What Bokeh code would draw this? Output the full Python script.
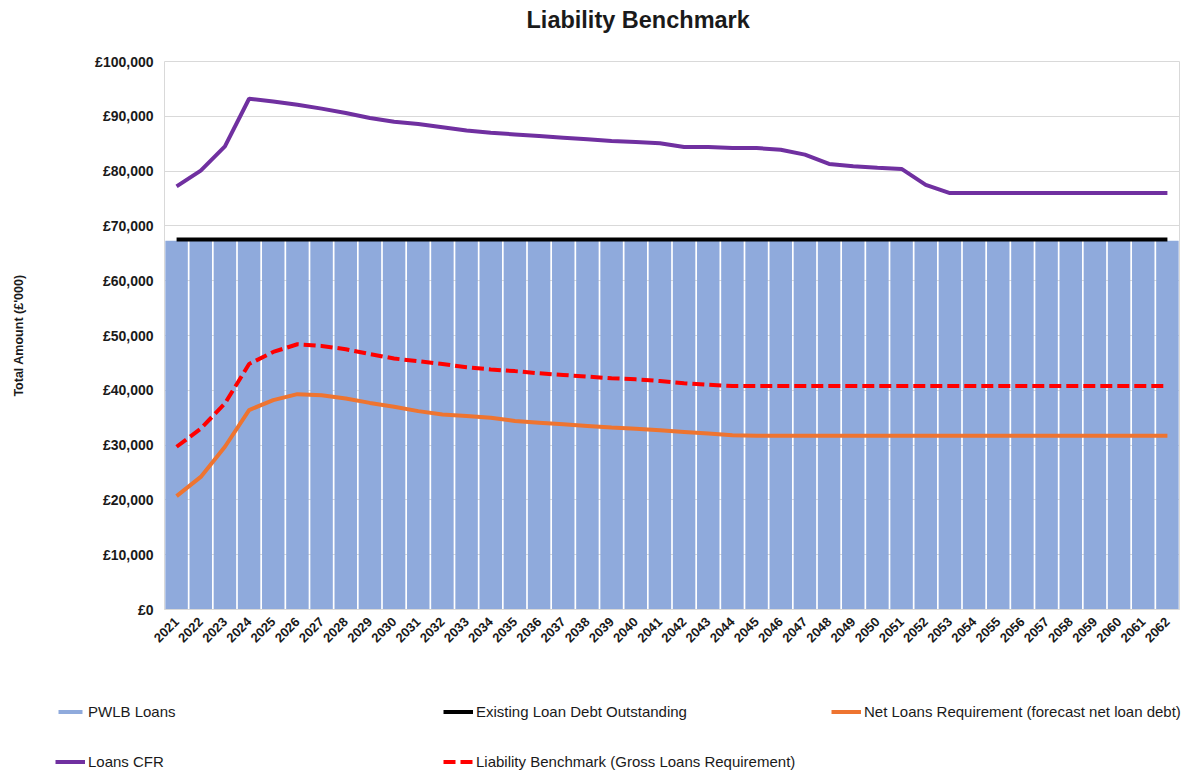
import math
from bokeh.plotting import figure
from bokeh.models import (FactorRange, Range1d, FixedTicker, Legend, LegendItem,
                          ColumnDataSource, Title)
from bokeh.embed import file_html
from bokeh.resources import INLINE

years = ["2021", "2022", "2023", "2024", "2025", "2026", "2027", "2028", "2029", "2030",
         "2031", "2032", "2033", "2034", "2035", "2036", "2037", "2038", "2039", "2040",
         "2041", "2042", "2043", "2044", "2045", "2046", "2047", "2048", "2049", "2050",
         "2051", "2052", "2053", "2054", "2055", "2056", "2057", "2058", "2059", "2060",
         "2061", "2062"]

pwlb_loans = [67300, 67300, 67300, 67300, 67300, 67300, 67300, 67300, 67300, 67300,
              67300, 67300, 67300, 67300, 67300, 67300, 67300, 67300, 67300, 67300,
              67300, 67300, 67300, 67300, 67300, 67300, 67300, 67300, 67300, 67300,
              67300, 67300, 67300, 67300, 67300, 67300, 67300, 67300, 67300, 67300,
              67300, 67300]

existing_debt = [67500, 67500, 67500, 67500, 67500, 67500, 67500, 67500, 67500, 67500,
                 67500, 67500, 67500, 67500, 67500, 67500, 67500, 67500, 67500, 67500,
                 67500, 67500, 67500, 67500, 67500, 67500, 67500, 67500, 67500, 67500,
                 67500, 67500, 67500, 67500, 67500, 67500, 67500, 67500, 67500, 67500,
                 67500, 67500]

net_loans = [20700, 24200, 29700, 36400, 38200, 39300, 39100, 38500, 37700, 37000,
             36200, 35600, 35300, 35000, 34400, 34100, 33800, 33500, 33200, 33000,
             32700, 32400, 32100, 31800, 31700, 31700, 31700, 31700, 31700, 31700,
             31700, 31700, 31700, 31700, 31700, 31700, 31700, 31700, 31700, 31700,
             31700, 31700]

loans_cfr = [77200, 80100, 84500, 93200, 92700, 92100, 91400, 90600, 89700, 89000,
             88600, 88000, 87400, 87000, 86700, 86400, 86100, 85800, 85500, 85300,
             85100, 84400, 84400, 84200, 84200, 83900, 83000, 81300, 80900, 80600,
             80400, 77500, 76000, 76000, 76000, 76000, 76000, 76000, 76000, 76000,
             76000, 76000]

liability_benchmark = [29700, 33000, 37600, 44800, 47000, 48400, 48100, 47500, 46600, 45800,
                       45300, 44800, 44200, 43800, 43500, 43100, 42800, 42500, 42200, 42000,
                       41700, 41300, 41000, 40800, 40800, 40800, 40800, 40800, 40800, 40800,
                       40800, 40800, 40800, 40800, 40800, 40800, 40800, 40800, 40800, 40800,
                       40800, 40800]

y_ticks = [0, 10000, 20000, 30000, 40000, 50000, 60000, 70000, 80000, 90000, 100000]
y_tick_labels = ["£0", "£10,000", "£20,000", "£30,000", "£40,000", "£50,000",
                 "£60,000", "£70,000", "£80,000", "£90,000", "£100,000"]

series_labels = ["PWLB Loans", "Existing Loan Debt Outstanding",
                 "Net Loans Requirement (forecast net loan debt)",
                 "Loans CFR", "Liability Benchmark (Gross Loans Requirement)"]

colors = {"pwlb": "#8faadc", "existing": "#000000", "net": "#ee7430",
          "cfr": "#7030a0", "lb": "#ff0000"}
LB_DASH = "12 5"

source = ColumnDataSource(dict(year=years, pwlb=pwlb_loans, existing=existing_debt,
                               net=net_loans, cfr=loans_cfr, lb=liability_benchmark))

FONT = "Liberation Sans"
TXT = "#1a1a1a"
W = 1188


def add_series(fig):
    r_bar = fig.vbar(x="year", top="pwlb", width=0.93, source=source,
                     fill_color=colors["pwlb"], line_color=None)
    r_exist = fig.line("year", "existing", source=source, line_color=colors["existing"], line_width=4)
    r_net = fig.line("year", "net", source=source, line_color=colors["net"], line_width=4)
    r_lb = fig.line("year", "lb", source=source, line_color=colors["lb"], line_width=4,
                    line_dash=LB_DASH)
    r_cfr = fig.line("year", "cfr", source=source, line_color=colors["cfr"], line_width=4)
    return r_bar, r_exist, r_net, r_lb, r_cfr


# ---------------- main chart ----------------
p = figure(width=W, height=680, x_range=FactorRange(factors=years),
           y_range=Range1d(0, 100000), output_backend="svg", toolbar_location=None,
           title_location=None,
           min_border_left=164, min_border_right=9, min_border_top=61, min_border_bottom=71)

# spacer (nearest the frame), then the real title above it
p.add_layout(Title(text=" ", text_font_size="10px", standoff=16), "above")
p.add_layout(Title(text="Liability Benchmark", align="left", offset=362,
                   text_font=FONT, text_font_size="23.5px", text_font_style="bold",
                   text_color=TXT, standoff=0), "above")

p.outline_line_color = "#d9d9d9"
p.xgrid.grid_line_color = None
p.ygrid.grid_line_color = "#d9d9d9"
p.ygrid.ticker = FixedTicker(ticks=y_ticks)

p.yaxis.ticker = FixedTicker(ticks=y_ticks)
p.yaxis.major_label_overrides = {t: l for t, l in zip(y_ticks, y_tick_labels)}
p.yaxis.axis_line_color = None
p.yaxis.major_tick_line_color = None
p.yaxis.minor_tick_line_color = None
p.yaxis.major_label_text_font = FONT
p.yaxis.major_label_text_font_size = "14px"
p.yaxis.major_label_text_font_style = "bold"
p.yaxis.major_label_text_color = TXT
p.yaxis.major_label_standoff = 5
p.yaxis.axis_label = "Total Amount (£'000)"
p.yaxis.axis_label_text_font = FONT
p.yaxis.axis_label_text_font_size = "12.5px"
p.yaxis.axis_label_text_font_style = "bold"
p.yaxis.axis_label_text_color = TXT
p.yaxis.axis_label_standoff = 66

p.xaxis.axis_line_color = "#d9d9d9"
p.xaxis.major_tick_line_color = None
p.xaxis.minor_tick_line_color = None
p.xaxis.major_label_orientation = math.pi / 4
p.xaxis.major_label_text_font = FONT
p.xaxis.major_label_text_font_size = "13px"
p.xaxis.major_label_text_font_style = "bold"
p.xaxis.major_label_text_color = TXT
p.xaxis.major_label_standoff = 4

add_series(p)

# ---------------- legend strip (own root so it can span the full width) ----------------
lg = figure(width=W, height=90, x_range=FactorRange(factors=years),
            y_range=Range1d(200000, 300000),   # series kept out of view: only legend keys show
            output_backend="svg", toolbar_location=None, title_location=None,
            x_axis_location=None, y_axis_location=None,
            min_border=0, min_border_left=0, min_border_right=0,
            min_border_top=0, min_border_bottom=0)
lg.grid.visible = False
lg.outline_line_color = None
g_bar, g_exist, g_net, g_lb, g_cfr = add_series(lg)

# column-major fill: col1 = PWLB, CFR; col2 = Existing, Liability; col3 = Net
legend = Legend(items=[LegendItem(label=series_labels[0], renderers=[g_bar]),
                       LegendItem(label=series_labels[3], renderers=[g_cfr]),
                       LegendItem(label=series_labels[1], renderers=[g_exist]),
                       LegendItem(label=series_labels[4], renderers=[g_lb]),
                       LegendItem(label=series_labels[2], renderers=[g_net])],
                ncols=3, location=(55, 0))
legend.label_text_font = FONT
legend.label_text_font_size = "15px"
legend.label_text_color = TXT
legend.glyph_width = 30
legend.glyph_height = 5
legend.label_height = 16
legend.label_width = 322
legend.label_standoff = 3
legend.spacing = 33
legend.padding = 0
legend.margin = 0
legend.border_line_alpha = 0
legend.background_fill_alpha = 0
lg.add_layout(legend)

open("out.html", "w").write(file_html([p, lg], INLINE))
